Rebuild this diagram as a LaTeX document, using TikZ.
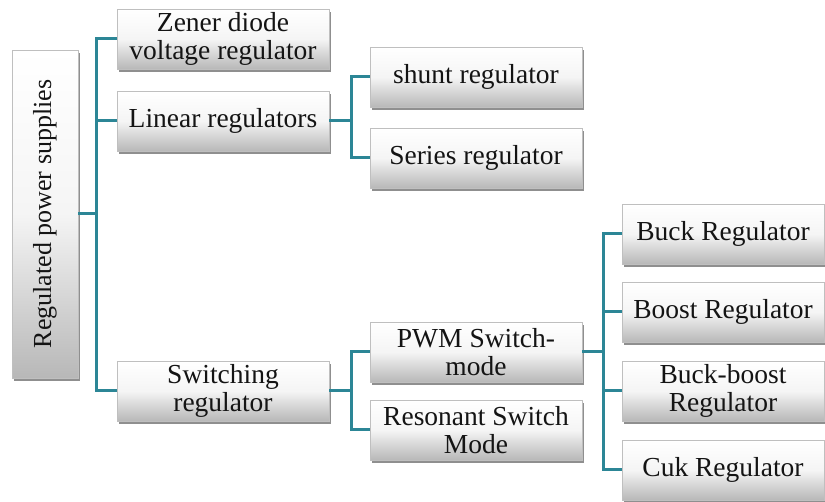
\documentclass[tikz,border=0pt]{standalone}
\usepackage{fontspec}
\setmainfont{Liberation Serif}
\usetikzlibrary{shadows}
\definecolor{connc}{HTML}{2C8696}
\begin{document}
\begin{tikzpicture}[x=1pt,y=-1pt,
  box/.style={top color=white, bottom color=black!28, middle color=black!4,
    draw=black!25, line width=0.4pt,
    drop shadow={shadow xshift=1.5pt, shadow yshift=-3pt, opacity=0.55, fill=black!80},
    minimum width=212pt, minimum height=60pt, inner sep=2pt, align=center,
    font=\fontsize{27.5}{28}\selectfont, text=black!92},
  rbox/.style={box, minimum width=202pt},
  conn/.style={draw=connc, line width=3pt, line join=miter}]
\useasboundingbox (0,0) rectangle (825,502);

\node[box, minimum width=66pt, minimum height=328pt, font=\fontsize{26}{28}\selectfont] (root) at (45,214) {\rotatebox{90}{Regulated power supplies}};

\node[box] (zener) at (223,39) {Zener diode\\voltage regulator};
\node[box] (linear) at (223,121) {Linear regulators};
\node[box] (switching) at (223,391) {Switching\\regulator};

\node[box] (shunt) at (476,77) {shunt regulator};
\node[box] (series) at (476,158) {Series regulator};

\node[box] (pwm) at (476,352) {PWM Switch-\\mode};
\node[box] (resonant) at (476,430) {Resonant Switch\\Mode};

\node[rbox] (buck) at (723,234) {Buck Regulator};
\node[rbox] (boost) at (723,312) {Boost Regulator};
\node[rbox] (buckboost) at (723,391) {Buck-boost\\Regulator};
\node[rbox] (cuk) at (723,470) {Cuk Regulator};

\coordinate (b1) at (96,0);
\coordinate (b2) at (351,0);
\coordinate (b3) at (351,0);
\coordinate (b4) at (603,0);

\draw[conn] (zener.west) -| (b1 |- switching.west) -- (switching.west);
\draw[conn] (root.east) -- (root.east -| b1);
\draw[conn] (linear.west) -- (linear.west -| b1);

\draw[conn] (shunt.west) -| (b2 |- series.west) -- (series.west);
\draw[conn] (linear.east) -- (linear.east -| b2);

\draw[conn] (pwm.west) -| (b3 |- resonant.west) -- (resonant.west);
\draw[conn] (switching.east) -- (switching.east -| b3);

\draw[conn] (buck.west) -| (b4 |- cuk.west) -- (cuk.west);
\draw[conn] (boost.west) -- (boost.west -| b4);
\draw[conn] (buckboost.west) -- (buckboost.west -| b4);
\draw[conn] (pwm.east) -- (pwm.east -| b4);
\end{tikzpicture}
\end{document}
